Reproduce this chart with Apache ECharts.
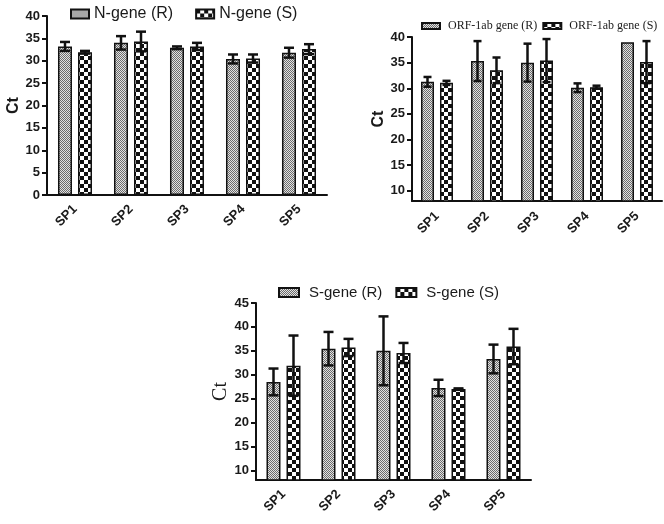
<!DOCTYPE html>
<html>
<head>
<meta charset="utf-8">
<script src="https://cdn.jsdelivr.net/npm/echarts@6/dist/echarts.min.js"></script>
<style>
html,body{margin:0;padding:0;background:#fff;}
#chart{width:664px;height:524px;}
</style>
</head>
<body>
<div id="chart"></div>
<script>
// ---- data ----
const categories = ['SP1', 'SP2', 'SP3', 'SP4', 'SP5'];

const nGeneR = [33.2, 34.0, 32.9, 30.4, 31.8];
const nGeneRErr = [1.0, 1.5, 0.3, 1.0, 1.1];
const nGeneS = [31.9, 34.3, 33.2, 30.5, 32.6];
const nGeneSErr = [0.3, 2.2, 0.8, 0.9, 1.1];

const orfR = [31.25, 35.3, 35.0, 30.1, 39.0];
const orfRErr = [0.95, 3.9, 3.7, 0.85, 0];
const orfS = [31.05, 33.5, 35.4, 30.2, 35.1];
const orfSErr = [0.4, 2.5, 4.2, 0.3, 4.1];

const sGeneR = [28.5, 35.45, 35.0, 27.25, 33.3];
const sGeneRErr = [2.8, 3.5, 7.2, 1.7, 3.0];
const sGeneS = [31.9, 35.7, 34.55, 27.0, 35.9];
const sGeneSErr = [6.3, 1.8, 2.1, 0.15, 3.7];

const nTicks = [0, 5, 10, 15, 20, 25, 30, 35, 40];
const orfTicks = [10, 15, 20, 25, 30, 35, 40];
const sTicks = [10, 15, 20, 25, 30, 35, 40, 45];

const legendN = ['N-gene (R)', 'N-gene (S)'];
const legendORF = ['ORF-1ab gene (R)', 'ORF-1ab gene (S)'];
const legendSG = ['S-gene (R)', 'S-gene (S)'];

// ---- patterns ----
function stipple() {
  const c = document.createElement('canvas');
  c.width = 2; c.height = 2;
  const g = c.getContext('2d');
  g.fillStyle = '#e2e2e2'; g.fillRect(0, 0, 2, 2);
  g.fillStyle = '#6c6c6c'; g.fillRect(0, 0, 1, 1); g.fillRect(1, 1, 1, 1);
  return { image: c, repeat: 'repeat' };
}
function checker() {
  const c = document.createElement('canvas');
  c.width = 8; c.height = 8;
  const g = c.getContext('2d');
  g.fillStyle = '#ffffff'; g.fillRect(0, 0, 8, 8);
  g.fillStyle = '#111111'; g.fillRect(0, 0, 4, 4); g.fillRect(4, 4, 4, 4);
  return { image: c, repeat: 'repeat' };
}
const patR = stipple();
const patS = checker();

const SANS = 'Liberation Sans, Arial, sans-serif';
const SERIF = 'Liberation Serif, Times New Roman, serif';

function errSeries(idx, vals, errs, offset, capW) {
  return {
    type: 'custom',
    xAxisIndex: idx, yAxisIndex: idx,
    z: 10,
    silent: true,
    encode: { x: 0, y: 1 },
    data: vals.map((v, i) => [i, v, errs[i]]),
    renderItem: function (params, api) {
      const i = api.value(0), m = api.value(1), e = api.value(2);
      if (!e) return { type: 'group', children: [] };
      const x = api.coord([i, m])[0] + offset;
      const yt = api.coord([i, m + e])[1];
      const yb = api.coord([i, m - e])[1];
      const st = { stroke: '#111', lineWidth: 2.5 };
      return {
        type: 'group',
        children: [
          { type: 'line', shape: { x1: x, y1: yt, x2: x, y2: yb }, style: st },
          { type: 'line', shape: { x1: x - capW / 2, y1: yt, x2: x + capW / 2, y2: yt }, style: st },
          { type: 'line', shape: { x1: x - capW / 2, y1: yb, x2: x + capW / 2, y2: yb }, style: st }
        ]
      };
    }
  };
}

function barSeries(idx, name, vals, pat, bw, gap) {
  return {
    type: 'bar', name: name,
    xAxisIndex: idx, yAxisIndex: idx,
    barWidth: bw, barGap: gap,
    data: vals,
    itemStyle: { color: pat, borderColor: '#111', borderWidth: 1.5 },
    emphasis: { disabled: true }
  };
}

const axisLineStyle = { color: '#111', width: 2 };

function xAxisCfg(idx, margin) {
  return {
    type: 'category', gridIndex: idx, data: categories,
    axisLine: { lineStyle: axisLineStyle },
    axisTick: { alignWithLabel: true, length: 5, lineStyle: axisLineStyle },
    axisLabel: { rotate: 45, interval: 0, margin: margin, fontFamily: SANS, fontWeight: 'bold', fontSize: 13, color: '#1a1a1a' }
  };
}
function yAxisCfg(idx, min, max, ticks, nameGap, nameFont) {
  return {
    type: 'value', gridIndex: idx, min: min, max: max,
    name: 'Ct', nameLocation: 'middle', nameGap: nameGap, nameRotate: 90,
    nameTextStyle: nameFont,
    axisLine: { show: true, lineStyle: axisLineStyle },
    axisTick: { show: true, length: 5, lineStyle: axisLineStyle, customValues: ticks },
    axisLabel: { customValues: ticks, margin: 7, fontFamily: SANS, fontWeight: 'bold', fontSize: 13, color: '#1a1a1a' },
    splitLine: { show: false }
  };
}

const option = {
  animation: false,
  backgroundColor: '#fff',
  grid: [
    { left: 47, top: 16, width: 280, height: 179 },
    { left: 412, top: 37, width: 250, height: 164 },
    { left: 256, top: 303, width: 275, height: 177 }
  ],
  legend: [
    { data: legendN, left: 70, top: 6, padding: 0, icon: 'rect', itemWidth: 18, itemHeight: 9, itemGap: 22, selectedMode: false,
      textStyle: { fontFamily: SANS, fontSize: 16, color: '#1a1a1a' } },
    { data: legendORF, left: 421, top: 20, padding: 0, width: 260, icon: 'rect', itemWidth: 18, itemHeight: 6, itemGap: 5, selectedMode: false,
      textStyle: { fontFamily: SERIF, fontSize: 12, color: '#1a1a1a', padding: [0, 0, 0, 3] } },
    { data: legendSG, left: 278, top: 285, padding: 0, icon: 'rect', itemWidth: 20, itemHeight: 9, itemGap: 13, selectedMode: false,
      textStyle: { fontFamily: SANS, fontSize: 15, color: '#1a1a1a', padding: [0, 0, 0, 5] } }
  ],
  xAxis: [xAxisCfg(0, 12), xAxisCfg(1, 13), xAxisCfg(2, 12)],
  yAxis: [
    yAxisCfg(0, 0, 40, nTicks, 24, { fontFamily: SANS, fontWeight: 'bold', fontSize: 16, color: '#1a1a1a' }),
    yAxisCfg(1, 8, 40, orfTicks, 25, { fontFamily: SANS, fontWeight: 'bold', fontSize: 16, color: '#1a1a1a' }),
    yAxisCfg(2, 8, 45, sTicks, 15, { fontFamily: SERIF, fontSize: 20, color: '#1a1a1a' })
  ],
  series: [
    barSeries(0, legendN[0], nGeneR, patR, 14, '43%'),
    barSeries(0, legendN[1], nGeneS, patS, 14, '43%'),
    errSeries(0, nGeneR, nGeneRErr, -10, 10),
    errSeries(0, nGeneS, nGeneSErr, 10, 10),

    barSeries(1, legendORF[0], orfR, patR, 13, '46%'),
    barSeries(1, legendORF[1], orfS, patS, 13, '46%'),
    errSeries(1, orfR, orfRErr, -9.5, 8),
    errSeries(1, orfS, orfSErr, 9.5, 8),

    barSeries(2, legendSG[0], sGeneR, patR, 14, '43%'),
    barSeries(2, legendSG[1], sGeneS, patS, 14, '43%'),
    errSeries(2, sGeneR, sGeneRErr, -10, 10),
    errSeries(2, sGeneS, sGeneSErr, 10, 10)
  ]
};

const chart = echarts.init(document.getElementById('chart'), null, { renderer: 'canvas' });
chart.setOption(option);
</script>
</body>
</html>
